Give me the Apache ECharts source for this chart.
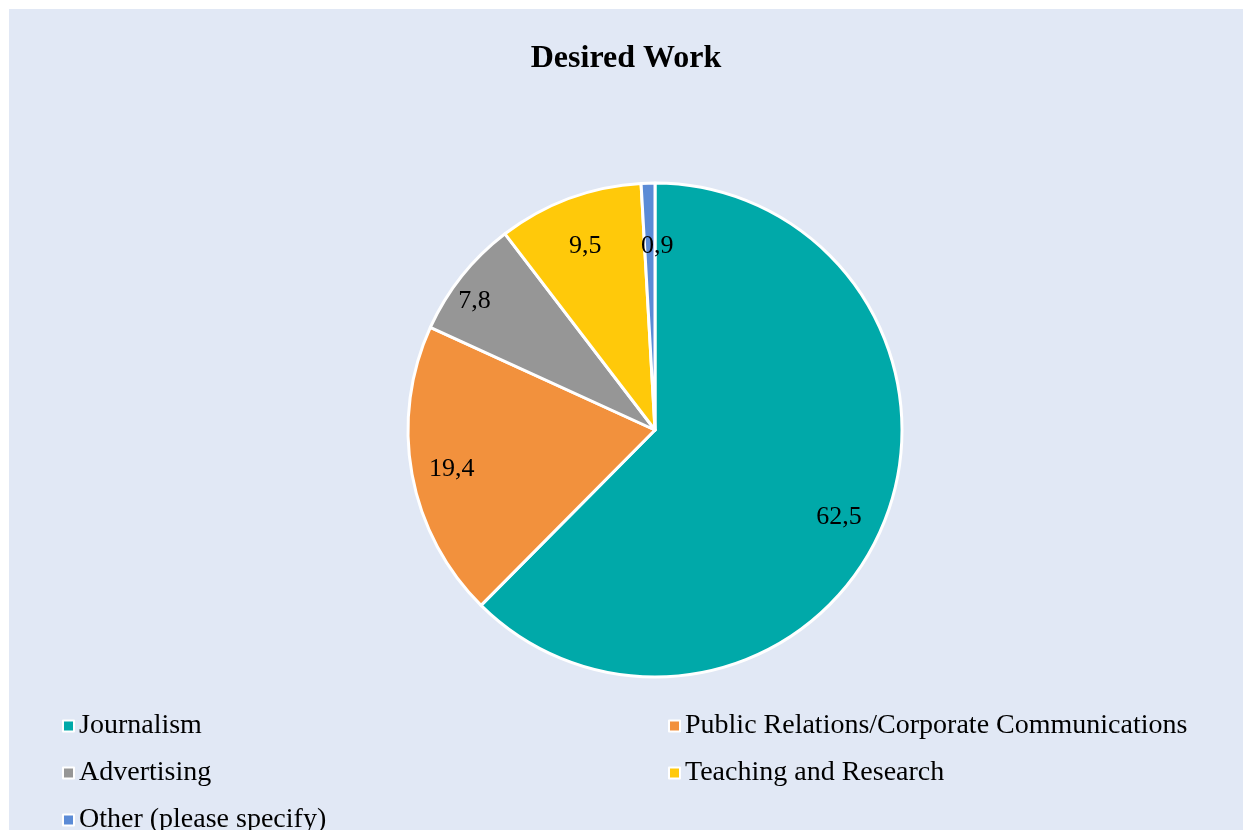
<!DOCTYPE html>
<html>
<head>
<meta charset="utf-8">
<script src="https://cdn.jsdelivr.net/npm/echarts@6/dist/echarts.min.js"></script>
<style>
html,body{margin:0;padding:0;background:#fff;width:1243px;height:830px;overflow:hidden;}
#c{position:absolute;left:9px;top:9px;width:1234px;height:821px;}
</style>
</head>
<body>
<div id="c"></div>
<script>
var categories = ['Journalism', 'Public Relations/Corporate Communications', 'Advertising', 'Teaching and Research', 'Other (please specify)'];
var values = [62.5, 19.4, 7.8, 9.5, 0.9];
var colors = ['#00A9A9', '#F2913D', '#969696', '#FFC90A', '#5B8BD6'];

var font = '"Liberation Serif", "Times New Roman", serif';
var labelOffsets = [[-7, 9], [0, 2], [-19, 0], [2, 10], [8, 23]];
var legendPos = [[48, 0], [654, 0], [48, 1], [654, 1], [48, 2]];

var data = categories.map(function (n, i) { return { name: n, value: values[i], itemStyle: { color: colors[i] } }; });
var labelData = categories.map(function (n, i) { return { name: n, value: values[i], label: { offset: labelOffsets[i] } }; });

var legends = categories.map(function (n, i) {
  return {
    data: [n], orient: 'horizontal',
    left: legendPos[i][0], top: 697 + 47 * legendPos[i][1],
    icon: 'rect', itemWidth: 11, itemHeight: 11,
    itemStyle: { borderColor: '#fff', borderWidth: 2 },
    textStyle: { fontFamily: font, fontSize: 28, color: '#000', lineHeight: 30 }
  };
});

var chart = echarts.init(document.getElementById('c'));
var center = [646, 421];
chart.setOption({
  backgroundColor: '#E1E8F5',
  animation: false,
  title: {
    text: 'Desired Work', left: 'center', top: 29,
    textStyle: { fontFamily: font, fontWeight: 'bold', fontSize: 32, color: '#000' }
  },
  legend: legends,
  series: [
    {
      type: 'pie', center: center, radius: [0, 247],
      startAngle: 90, clockwise: true,
      itemStyle: { borderColor: '#fff', borderWidth: 3 },
      label: { show: false }, labelLine: { show: false },
      emphasis: { disabled: true },
      data: data
    },
    {
      type: 'pie', center: center, radius: [160, 247],
      startAngle: 90, clockwise: true, silent: true,
      itemStyle: { color: 'rgba(0,0,0,0)', borderWidth: 0 },
      label: {
        show: true, position: 'inside',
        fontFamily: font, fontSize: 26, color: '#000',
        formatter: function (p) { return String(p.value).replace('.', ','); }
      },
      labelLine: { show: false },
      emphasis: { disabled: true },
      data: labelData
    }
  ]
});
</script>
</body>
</html>
